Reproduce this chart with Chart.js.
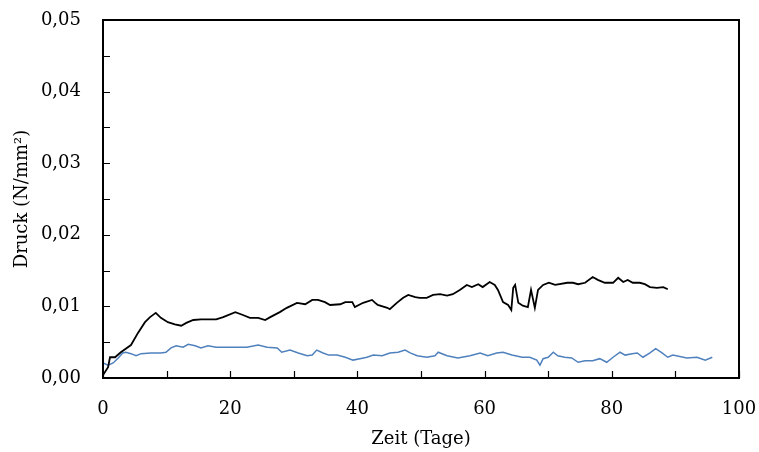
<!DOCTYPE html>
<html>
<head>
<meta charset="utf-8">
<script src="https://cdn.jsdelivr.net/npm/chart.js@4"></script>
<style>
  html, body { margin: 0; padding: 0; background: #fff; }
  #wrap { width: 759px; height: 452px; }
</style>
</head>
<body>
<div id="wrap"><canvas id="c" width="759" height="452"></canvas></div>
<script>
// Messreihe 1 (schwarz): Zeit in Tagen, Druck in N/mm²
const tageA = [0, 0.8, 1.1, 1.9, 2.8, 4.4, 5.5, 6.6, 7.4, 8.3, 9.1, 10.2, 11.3, 12.3, 13.1, 14.2, 15.4, 16.8, 17.8, 18.9,
  20.8, 22.0, 23.1, 24.4, 25.5, 26.3, 27.8, 28.9, 30.5, 31.8, 32.9, 33.8, 34.9, 35.7, 37.3, 38.1, 39.2, 39.6, 40.9, 42.3,
  42.8, 43.2, 44.7, 45.1, 46.2, 47.2, 48.0, 49.1, 49.8, 50.9, 51.9, 53.0, 54.1, 55.0, 56.1, 57.2, 58.0, 59.0, 59.7, 60.8,
  61.6, 62.1, 62.9, 63.7, 64.2, 64.5, 64.8, 65.3, 66.0, 66.8, 67.3, 67.9, 68.4, 69.2, 70.1, 71.1, 73.0, 73.9, 74.7, 75.8,
  77.0, 77.8, 78.9, 80.2, 81.0, 81.8, 82.5, 83.3, 84.4, 85.2, 86.0, 87.1, 88.1, 88.8];
const druckA = [0.0004, 0.0015, 0.0029, 0.0029, 0.0036, 0.0046, 0.0063, 0.0078, 0.0085, 0.0091, 0.0084, 0.0078, 0.0075, 0.0073, 0.0077, 0.0081, 0.0082, 0.0082, 0.0082, 0.0085,
  0.0092, 0.0088, 0.0084, 0.0084, 0.0081, 0.0085, 0.0092, 0.0098, 0.0105, 0.0103, 0.0109, 0.0109, 0.0106, 0.0102, 0.0103, 0.0106, 0.0106, 0.0099, 0.0105, 0.0109,
  0.0105, 0.0102, 0.0098, 0.0096, 0.0105, 0.0112, 0.0116, 0.0113, 0.0112, 0.0112, 0.0116, 0.0117, 0.0115, 0.0117, 0.0123, 0.0130, 0.0127, 0.0131, 0.0127, 0.0134,
  0.0130, 0.0123, 0.0106, 0.0102, 0.0095, 0.0126, 0.0130, 0.0105, 0.0101, 0.0099, 0.0123, 0.0098, 0.0123, 0.0130, 0.0133, 0.0130, 0.0133, 0.0133, 0.0131, 0.0133,
  0.0141, 0.0137, 0.0133, 0.0133, 0.0140, 0.0134, 0.0137, 0.0133, 0.0133, 0.0131, 0.0127, 0.0126, 0.0127, 0.0124];

// Messreihe 2 (blau)
const tageB = [0, 0.8, 1.6, 2.4, 3.1, 3.6, 4.4, 5.2, 6.0, 7.5, 9.1, 9.9, 10.7, 11.5, 12.6, 13.4, 14.5, 15.4, 16.5, 17.8,
  18.9, 21.1, 22.6, 24.4, 25.8, 27.4, 28.1, 29.4, 30.7, 32.1, 32.9, 33.6, 34.6, 35.5, 36.8, 38.1, 39.3, 40.4, 41.5, 42.5,
  43.9, 45.1, 46.4, 47.5, 48.3, 49.4, 50.9, 52.2, 52.7, 54.1, 55.8, 57.7, 59.3, 60.5, 61.9, 62.9, 64.3, 65.9, 67.1, 68.2,
  68.7, 69.2, 70.0, 70.8, 71.5, 72.6, 73.7, 74.7, 75.8, 77.0, 78.1, 79.2, 80.2, 81.3, 82.1, 83.2, 84.0, 84.9, 86.0, 86.9,
  87.9, 88.8, 89.6, 91.8, 93.4, 94.7, 95.8];
const druckB = [0.0021, 0.0018, 0.0021, 0.0028, 0.0035, 0.0036, 0.0034, 0.0031, 0.0034, 0.0035, 0.0035, 0.0036, 0.0042, 0.0045, 0.0043, 0.0047, 0.0045, 0.0042, 0.0045, 0.0043,
  0.0043, 0.0043, 0.0043, 0.0046, 0.0043, 0.0042, 0.0036, 0.0039, 0.0035, 0.0031, 0.0032, 0.0039, 0.0035, 0.0032, 0.0032, 0.0029, 0.0025, 0.0027, 0.0029, 0.0032,
  0.0031, 0.0035, 0.0036, 0.0039, 0.0035, 0.0031, 0.0029, 0.0031, 0.0036, 0.0031, 0.0028, 0.0031, 0.0035, 0.0031, 0.0035, 0.0036, 0.0032, 0.0029, 0.0029, 0.0025,
  0.0018, 0.0027, 0.0029, 0.0036, 0.0031, 0.0029, 0.0028, 0.0022, 0.0024, 0.0024, 0.0027, 0.0022, 0.0029, 0.0036, 0.0032, 0.0034, 0.0035, 0.0029, 0.0035, 0.0041,
  0.0035, 0.0029, 0.0032, 0.0028, 0.0029, 0.0025, 0.0029];

const xTitel = 'Zeit (Tage)';
const yTitel = 'Druck (N/mm²)';

const toPoints = (xs, ys) => xs.map((x, i) => ({ x: x, y: ys[i] }));

const FONT = { family: '"DejaVu Serif", "Liberation Serif", serif', size: 18 };

// Rahmen um die Zeichenfläche und nach innen zeigende Teilstriche
const rahmen = {
  id: 'rahmen',
  afterDatasetsDraw(chart) {
    const { ctx, chartArea: a, scales } = chart;
    ctx.save();
    ctx.strokeStyle = '#000';
    ctx.lineWidth = 1.2;
    ctx.beginPath();
    scales.x.ticks.forEach(t => {
      const px = Math.round(scales.x.getPixelForValue(t.value)) + 0.5;
      ctx.moveTo(px, a.bottom);
      ctx.lineTo(px, a.bottom - 7);
    });
    scales.y.ticks.forEach(t => {
      const py = Math.round(scales.y.getPixelForValue(t.value)) + 0.5;
      ctx.moveTo(a.left, py);
      ctx.lineTo(a.left + 7, py);
    });
    ctx.stroke();
    ctx.lineWidth = 2;
    ctx.strokeRect(a.left, a.top, a.right - a.left, a.bottom - a.top);
    ctx.restore();
  }
};

new Chart(document.getElementById('c'), {
  type: 'line',
  data: {
    datasets: [
      {
        data: toPoints(tageA, druckA),
        borderColor: '#000000',
        borderWidth: 1.8,
        pointRadius: 0,
        tension: 0
      },
      {
        data: toPoints(tageB, druckB),
        borderColor: '#4f81bd',
        borderWidth: 1.5,
        pointRadius: 0,
        tension: 0
      }
    ]
  },
  options: {
    responsive: false,
    animation: false,
    layout: { autoPadding: false, padding: { left: 8, right: 20, top: 20, bottom: 0 } },
    plugins: { legend: { display: false }, tooltip: { enabled: false } },
    scales: {
      x: {
        type: 'linear',
        min: 0, max: 100,
        grid: { display: false },
        border: { display: false },
        ticks: {
          stepSize: 10,
          padding: 13,
          color: '#000',
          font: FONT,
          maxRotation: 0,
          autoSkip: false,
          callback: v => (v % 20 === 0 ? String(v) : '')
        },
        title: { display: true, text: xTitel, color: '#000', font: FONT, padding: { top: 4, bottom: 2 } },
        afterFit: s => { s.height = 74; s.paddingLeft = 0; s.paddingRight = 0; }
      },
      y: {
        min: 0, max: 0.05,
        grid: { display: false },
        border: { display: false },
        ticks: {
          stepSize: 0.005,
          padding: 14,
          color: '#000',
          font: FONT,
          autoSkip: false,
          callback: v => {
            const k = Math.round(v * 1000);
            return k % 10 === 0 ? (k / 1000).toFixed(2).replace('.', ',') : '';
          }
        },
        title: { display: true, text: yTitel, color: '#000', font: FONT, padding: { top: 4, bottom: 4 } },
        afterFit: s => { s.width = 95; s.paddingTop = 0; s.paddingBottom = 0; }
      }
    }
  },
  plugins: [rahmen]
});
</script>
</body>
</html>
